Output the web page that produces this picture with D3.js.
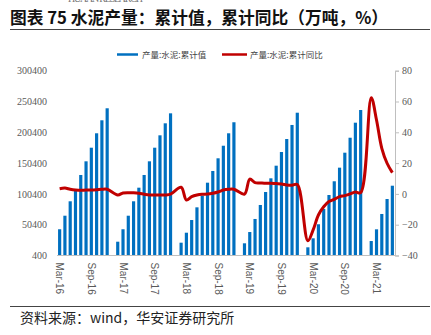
<!DOCTYPE html>
<html><head><meta charset="utf-8">
<script src="https://cdn.jsdelivr.net/npm/d3@7"></script>
<style>body{margin:0;background:#fff}svg{display:block}</style>
</head><body><svg id="c" width="431" height="335"></svg>
<script>
// Categories: months Mar-16 .. Jun-21 (Jan has no separate value)
const months = [
 "2016-03","2016-04","2016-05","2016-06","2016-07","2016-08","2016-09","2016-10","2016-11","2016-12",
 "2017-01","2017-02","2017-03","2017-04","2017-05","2017-06","2017-07","2017-08","2017-09","2017-10","2017-11","2017-12",
 "2018-01","2018-02","2018-03","2018-04","2018-05","2018-06","2018-07","2018-08","2018-09","2018-10","2018-11","2018-12",
 "2019-01","2019-02","2019-03","2019-04","2019-05","2019-06","2019-07","2019-08","2019-09","2019-10","2019-11","2019-12",
 "2020-01","2020-02","2020-03","2020-04","2020-05","2020-06","2020-07","2020-08","2020-09","2020-10","2020-11","2020-12",
 "2021-01","2021-02","2021-03","2021-04","2021-05","2021-06"];
// 产量:水泥:累计值 (万吨)
const cumValue = [
 43000,65000,88400,107900,131100,153300,175400,198800,219900,239400,
 null,22800,43000,65000,88400,110500,131100,153300,175400,195500,215000,231200,
 null,21200,37400,58000,78600,97500,118600,137600,158200,178600,198800,216700,
 null,20200,38500,59700,82400,103500,125700,146200,168400,189500,212300,232200,
 null,13700,28300,51100,75900,98600,120900,143000,167300,191600,216000,236600,
 null,23900,42900,67800,92100,113700];
// 产量:水泥:累计同比 (%)
const cumYoY = [
 3.4,3.8,3.0,2.5,2.3,2.5,2.5,2.7,3.0,3.0,
 null,-0.7,0.6,0.8,0.7,0.4,-0.2,-0.7,-0.7,-0.7,-0.7,-0.2,
 null,4.3,-4.0,-1.8,-0.7,-0.2,-0.1,0.4,1.2,2.5,3.0,3.0,
 null,-0.1,9.6,7.3,7.1,6.9,6.9,6.7,6.5,5.8,5.6,6.1,
 null,-30.4,-23.4,-13.7,-8.3,-5.0,-3.5,-1.8,-1.1,0.0,1.2,0.8,
 null,62.5,48.0,29.6,19.9,13.8];
const leftTicks = [400,50400,100400,150400,200400,250400,300400];
const rightTicks = [-40,-20,0,20,40,60,80];
const xTickLabels = ["2016-03","2016-09","2017-03","2017-09","2018-03","2018-09","2019-03","2019-09","2020-03","2020-09","2021-03"];
const seriesNames = ["产量:水泥:累计值","产量:水泥:累计同比"];

const svg = d3.select("#c");
const L = 57, R = 395, T = 70.7, B = 255.5;
const blue = "#0070C0", red = "#C00000";
const cjk = "'Noto Sans CJK SC', sans-serif";

const x = d3.scaleBand().domain(months).range([L, R]).paddingInner(0.4).paddingOuter(0.2);
const yL = d3.scaleLinear().domain([400, 300400]).range([B, T]);
const yR = d3.scaleLinear().domain([-40, 80]).range([B, T]);
const fmtLab = d => { const p = d.split("-"); return ["Jan","Feb","Mar","Apr","May","Jun","Jul","Aug","Sep","Oct","Nov","Dec"][+p[1]-1] + "-" + p[0].slice(2); };

// header remnant
svg.append("text").attr("x", 68).attr("y", 2).attr("font-family", "'Liberation Serif', serif")
  .attr("font-size", 10).attr("fill", "#777").attr("textLength", 75).text("HUAAN RESEARCH");
// title
svg.append("text").attr("x", 10).attr("y", 23.5).attr("font-family", cjk).attr("font-weight", "bold")
  .attr("font-size", 17).attr("fill", "#111").attr("textLength", 378).attr("lengthAdjust", "spacingAndGlyphs")
  .text("图表 75  水泥产量：累计值，累计同比（万吨，%）");
svg.append("line").attr("x1", 10).attr("x2", 430).attr("y1", 29.5).attr("y2", 29.5).attr("stroke", "#444").attr("stroke-width", 1.2);

// legend
const lg = svg.append("g");
lg.append("line").attr("x1", 117).attr("x2", 138).attr("y1", 54.5).attr("y2", 54.5).attr("stroke", blue).attr("stroke-width", 2.5);
lg.append("text").attr("x", 142).attr("y", 57.5).attr("font-family", cjk).attr("font-size", 8.5).attr("fill", "#444").text(seriesNames[0]);
lg.append("line").attr("x1", 222).attr("x2", 247).attr("y1", 54.5).attr("y2", 54.5).attr("stroke", red).attr("stroke-width", 2.5);
lg.append("text").attr("x", 250).attr("y", 57.5).attr("font-family", cjk).attr("font-size", 8.5).attr("fill", "#444").text(seriesNames[1]);

// left axis (labels only)
const ax1 = svg.append("g").attr("transform", `translate(${L},0)`)
  .call(d3.axisLeft(yL).tickValues(leftTicks).tickSize(0).tickPadding(10).tickFormat(d3.format("d")));
ax1.select(".domain").remove();
ax1.selectAll("text").attr("font-family", "'Liberation Serif', serif").attr("font-size", 10).attr("fill", "#595959");

// right axis
const ax2 = svg.append("g").attr("transform", `translate(${R},0)`)
  .call(d3.axisRight(yR).tickValues(rightTicks).tickSize(4).tickPadding(3).tickFormat(d3.format("d")));
ax2.select(".domain").attr("stroke", "#BFBFBF");
ax2.selectAll(".tick line").attr("stroke", "#BFBFBF");
ax2.selectAll("text").attr("font-family", "'Liberation Serif', serif").attr("font-size", 10).attr("fill", "#595959");

// bars
svg.append("g").selectAll("rect").data(months.map((m, i) => ({m, v: cumValue[i]})).filter(d => d.v != null))
  .join("rect").attr("x", d => x(d.m)).attr("width", x.bandwidth())
  .attr("y", d => yL(d.v)).attr("height", d => B - yL(d.v)).attr("fill", blue);

// bottom axis
const ax3 = svg.append("g").attr("transform", `translate(0,${B})`)
  .call(d3.axisBottom(x).tickValues(xTickLabels).tickSize(0).tickFormat(fmtLab));
ax3.select(".domain").attr("stroke", "#BFBFBF").attr("d", `M${L},0H${R}`);
ax3.selectAll("text").attr("font-family", "'Liberation Sans', Arial, sans-serif").attr("font-size", 10).attr("fill", "#595959")
  .attr("text-anchor", "start").attr("transform", "rotate(90)").attr("x", 7).attr("y", 0).attr("dy", "0.35em");

// line
const pts = months.map((m, i) => ({m, v: cumYoY[i]})).filter(d => d.v != null);
svg.append("path").datum(pts).attr("fill", "none").attr("stroke", red).attr("stroke-width", 3).attr("stroke-linejoin", "round")
  .attr("d", d3.line().x(d => x(d.m) + x.bandwidth() / 2).y(d => yR(d.v)).curve(d3.curveCatmullRom.alpha(0.5)));

// footer
svg.append("line").attr("x1", 10).attr("x2", 430).attr("y1", 306.5).attr("y2", 306.5).attr("stroke", "#444").attr("stroke-width", 1.2);
svg.append("text").attr("x", 20).attr("y", 323).attr("font-family", cjk).attr("font-size", 14).attr("fill", "#222")
  .text("资料来源：wind，华安证券研究所");
</script></body></html>
